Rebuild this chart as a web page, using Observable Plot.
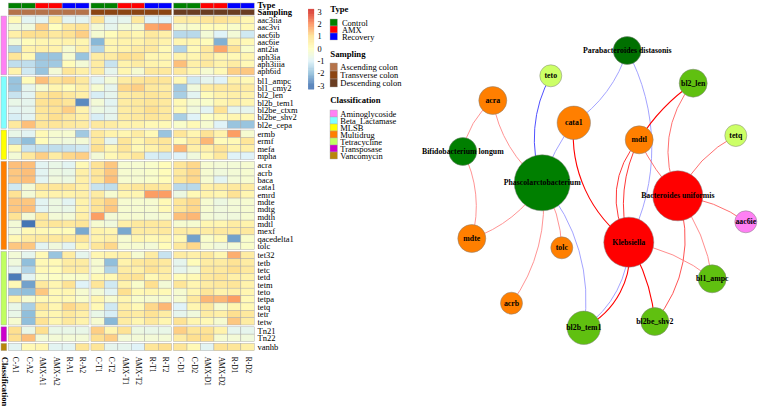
<!DOCTYPE html>
<html><head><meta charset="utf-8">
<script src="https://cdn.jsdelivr.net/npm/d3@7"></script>
<script src="https://cdn.jsdelivr.net/npm/@observablehq/plot@0.6"></script>
<style>
html,body{margin:0;padding:0;background:#fff;width:758px;height:406px;overflow:hidden}
#page{position:relative;width:758px;height:406px}
.ttl{position:absolute;font:bold 8.7px "Liberation Serif",serif;color:#000;line-height:1}
</style></head><body><div id="page"></div>
<script>
const columns=["C-A1","C-A2","AMX-A1","AMX-A2","R-A1","R-A2","C-T1","C-T2","AMX-T1","AMX-T2","R-T1","R-T2","C-D1","C-D2","AMX-D1","AMX-D2","R-D1","R-D2"];
const typeNames=["Control","AMX","Recovery"];
const typeColors=["#008000","#FF0000","#0000FF"];
const samplingNames=["Ascending colon","Transverse colon","Descending colon"];
const samplingColors=["#B5734A","#8B4513","#6A3D22"];
const classNames=["Aminoglycoside","Beta_Lactamase","MLSB","Multidrug","Tetracycline","Transposase","Vancomycin"];
const classColors=["#FF80F4","#80FFFF","#FFFF00","#FF7F00","#C0FF60","#CC00CC","#B8860B"];

const rowsAmino=["aac3iia","aac3vi","aac6ib","aac6ie","ant2ia","aph3ia","aph3iiia","aph6id"];
const heatAmino=[
[0.2,-0.9,-0.9,0.7,-0.9,-0.9,0.9,-0.9,-0.8,0.7,-1,-1,0.6,0.6,0.8,0.9,0.7,0.3],
[-0.5,-0.5,1.2,0,0.7,0.9,-0.4,-0.8,-0.4,-0.3,1.7,1.9,-0.3,-0.2,0.1,0.1,-0.2,0.2],
[0.5,1,1,0.7,0.9,1.2,-0.3,0.1,0.5,0.3,0.7,0.5,-1.5,-1.5,-0.4,-1,-0.4,-1.2],
[-0.4,0.1,0.3,0.3,0.4,0.3,-2.1,0.3,0.4,0.4,0.6,0.4,0.3,0.3,0.1,-2.2,0.4,0.2],
[-1.6,0.4,0.5,0.4,-0.3,0.5,-1.6,0.3,0.4,0.6,0.7,0.2,-1.6,0.2,0.7,1.7,0.9,-0.2],
[0.8,0.2,-1.9,-1.9,-0.3,-1.9,0.6,0.6,1,0.9,0.3,0.3,0.4,0.3,0.6,0.3,0.2,0.3],
[-1.4,-1.4,-1.8,-1.8,0.1,-0.4,0.6,-1.3,0.4,0.6,0.4,0.3,1.4,0.5,0.7,0.4,0.6,0.2],
[0.4,-1.2,-1.9,-0.4,0.8,0.5,0.6,-0.8,0.3,-0.3,0.7,0.7,0.7,0.3,-0.3,0.2,1.2,1.3]];
const rowsBeta=["bl1_ampc","bl1_cmy2","bl2_len","bl2b_tem1","bl2be_ctxm","bl2be_shv2","bl2e_cepa"];
const heatBeta=[
[-1.9,0.1,1.4,0.9,1.1,0.7,-0.9,-0.4,0.6,0.8,0.9,0.8,0.2,-1.2,-0.8,-1,0.4,0.2],
[-1.9,-0.8,-0.3,0.3,0.1,0.5,-0.3,-0.8,1.1,1.2,0.7,0.6,-1.8,-0.5,0.6,0.7,0.7,0.6],
[-1.3,-0.9,0.8,1,0.7,0.5,-1.1,-0.8,0.6,0.7,0.8,0.7,-1.7,-0.9,0.1,0.4,0.5,0.4],
[-0.7,-0.8,0.9,1,0.8,-2.7,-0.4,-0.9,0.6,0.7,0.8,0.7,0.2,-0.3,-0.2,0.3,0.5,0.3],
[-0.9,-0.8,0.8,0.9,1.2,0.4,-0.6,-0.8,0.6,0.7,1,0.7,0.2,-0.5,-0.9,0.9,-0.8,-0.8],
[-1.1,-0.9,0.7,1,0.7,0.5,-1.1,-0.8,0.6,0.7,0.8,0.7,-1.7,-1,-0.1,0.2,0.3,0.2],
[0.7,1.4,0.8,0.8,0.7,0.6,0.7,0.6,0.4,0.4,0.2,0.2,-0.2,0.2,-0.3,-1,-1.9,-1.9]];
const rowsMlsb=["ermb","ermf","mefa","mpha"];
const heatMlsb=[
[-0.7,-0.9,0.2,-0.3,-0.3,-1.8,0.7,0.4,0.3,0.6,0.2,-1.9,0.8,0.3,0.9,0.4,1.8,-0.3],
[-1.6,-2,0.1,-0.4,-0.5,-0.4,0.7,-0.8,0.8,0.3,0.7,0.8,0.1,0.7,1.5,0.1,0.2,0.8],
[0.2,-1.3,-1.4,-1.4,-1.3,-1.2,1,0.3,0.8,0.2,0.4,0.7,1.5,0.5,0.5,0.9,0.4,0.5],
[-0.4,0.7,1.2,0.6,1.1,1.2,-0.4,0.2,0.5,0.8,-1.1,-1.2,-1,-0.5,0.2,0.7,-1,-1]];
const rowsMulti=["acra","acrb","baca","cata1","emrd","mdte","mdtg","mdth","mdtl","mexf","qacedelta1","tolc"];
const heatMulti=[
[1.4,1.4,-0.9,-0.7,-0.9,0.2,0.9,1.3,-0.3,-0.3,-0.2,0.1,0.8,1.1,-0.3,-0.4,-0.4,-0.3],
[1.3,1.4,-0.9,-0.6,-0.7,0.5,0.8,1.3,-0.3,-0.3,-0.2,0.1,0.7,1.1,-0.3,-0.5,-0.4,-0.3],
[1.3,1.4,-0.9,-0.5,-0.6,0.5,0.8,1.4,-0.3,-0.3,-0.2,0.1,0.8,1.1,-0.3,-0.9,-0.4,-0.3],
[-1.2,-0.4,0.8,0.8,0.8,0.5,-1.3,-1.4,0.6,0.8,0.8,0.7,-1.5,-1.5,0.5,0.6,0.7,0.6],
[0.9,-0.4,0.4,0.4,0.4,0.5,0.6,-0.3,0.3,0.3,1.8,1.8,-0.6,0.2,0.4,0.3,0.9,0.3],
[1.3,1.3,-0.9,-0.6,-0.9,0.4,0.9,1.2,-0.3,-0.3,-0.3,0.2,0.8,1.1,-0.3,-0.6,-0.4,-0.3],
[1.3,1.4,-0.9,-0.6,-0.7,0.4,0.9,1.3,-0.3,-0.3,-0.3,0.2,0.8,1.1,-0.3,-0.5,-0.4,-0.3],
[0.9,-0.4,0.7,-0.4,-0.4,0.5,1.8,-0.4,-0.3,-0.3,-0.4,-0.3,1.4,1.5,-0.4,-0.5,-0.5,-0.3],
[-0.4,-3,0.7,0.8,0.7,0.8,-0.3,-0.5,0.5,0.7,0.7,0.7,-0.3,-0.3,0.3,0.3,0.6,0.4],
[-0.4,0.2,0.2,0.1,0.1,-2.3,0.4,0.3,-2.3,0.6,0.6,0.7,0.6,0.6,0.6,0.7,0.7,0.7],
[0.2,0.6,0.7,0.7,0.7,0.8,0.4,0.5,-0.3,0.3,0.2,0.3,0.2,-2.4,-0.2,0.2,-2.4,-0.2],
[1.3,1.3,-0.9,-0.5,-0.9,0.3,0.8,1.1,-0.3,-0.3,-0.4,0.1,0.7,1.1,-0.3,-0.5,-0.4,-0.2]];
const rowsTetra=["tet32","tetb","tetc","tetd","tetm","teto","tetpa","tetq","tetr","tetw"];
const heatTetra=[
[-0.4,-0.8,0.2,-1.9,0.6,-0.8,0.3,0.4,0.5,-0.3,0.6,-1.3,0.6,0.5,0.7,0.3,1.6,0.6],
[-0.5,-2,0.2,0.2,0.6,0.6,-0.3,-2,0.4,0.7,0.8,0.7,-0.8,0.1,0.6,0.6,0.9,0.6],
[-0.8,-1.6,0.2,0.1,0.6,0.6,-0.3,-1.6,0.6,0.5,0.9,0.6,-0.8,-0.5,0.7,0.7,1,0.7],
[-2.9,-0.9,-0.2,-0.1,-0.2,-0.2,0.2,0.2,0.8,0.9,0.2,0.5,0.1,0.2,0.7,0.8,0.5,0.4],
[0.2,-2.4,0.7,0.3,0.9,-1,0.8,-1.2,0.4,-0.2,1,-0.4,0.8,0.3,0.6,0.7,0.8,0.4],
[-1.9,-2,1.3,0.2,0.3,-0.3,-0.4,-0.9,1,0.2,0.3,0.2,-0.3,0.3,0.8,0.4,0.5,0.3],
[0.4,-0.3,0.2,0.2,0.2,-0.2,0.3,-0.3,0.3,-0.2,-0.3,-0.3,-0.3,0.7,1.5,1.5,1.8,0.2],
[-0.7,-1.7,0.8,0.3,1.1,0.8,0.2,-1.2,0.5,0.2,1.1,1.5,-1,0.3,0.7,-0.3,0.3,0.2],
[-0.7,-2,0.4,0.3,0.7,0.5,-0.7,-1.1,0.7,0.6,0.9,0.6,-0.8,-0.5,0.6,0.5,1,0.7],
[-0.3,-2,0.9,0.3,0.7,0.4,-0.3,-2.1,0.6,0.3,0.7,0.3,0.9,0.3,0.2,-0.3,1.3,0.6]];
const rowsTrans=["Tn21","Tn22"];
const heatTrans=[
[1,-0.7,1,-0.7,-0.7,-0.7,1.2,0.3,0.9,-0.6,-0.7,-0.7,1.2,0.8,0.9,0.4,-0.8,-0.8],
[1,1.4,-0.4,-0.4,-0.4,-0.4,1,1.2,-0.4,-0.4,-0.4,-0.4,0.6,1,1,-0.3,-0.4,-0.5]];
const rowsVanco=["vanhb"];
const heatVanco=[[-0.9,0.2,0.3,-0.9,-0.9,0.8,0.8,-0.8,-0.8,-1,0.8,1,0.8,0.2,-0.9,0.9,0.8,0.5]];
const rowGroups=[rowsAmino,rowsBeta,rowsMlsb,rowsMulti,rowsTetra,rowsTrans,rowsVanco];
const heatGroups=[heatAmino,heatBeta,heatMlsb,heatMulti,heatTetra,heatTrans,heatVanco];
const heatTicks=[-3,-2,-1,0,1,2,3];
const heatRamp=["#4575B4","#91BFDB","#E0F3F8","#FFFFBF","#FEE090","#FC8D59","#D73027"];

const nodeNames=["Phascolarctobacterium","Bifidobacterium longum","Parabacteroides distasonis","Bacteroides uniformis","Klebsiella","acra","acrb","cata1","mdte","mdtl","tolc","teto","tetq","bl2_len","bl1_ampc","bl2b_tem1","bl2be_shv2","aac6ie"];
const nodeX=[541.7,462.3,626.7,677.3,628.3,492.3,511,573.3,471.3,638.7,561.3,550.3,735.3,692.7,711.7,583.3,654.3,745.3];
const nodeY=[182.3,151,50,195.3,241.7,100,302.7,122.3,238,139.3,247.3,75.3,135,82.7,278.3,327.3,321,221.3];
const nodeSize=[28,14,14,25,25,14,11,16.7,14,14,11,11,11,14,14,16.7,14,11];
const nodeFill=["#007F00","#007F00","#007000","#FF0000","#FF0000","#FF7F00","#FF7F00","#FF7F00","#FF7F00","#FF7F00","#FF7F00","#CCFF66","#CCFF66","#60C010","#60C010","#60C010","#60C010","#FF80F4"];
const edges=[
["acra","Bifidobacterium longum","#FF8888",-20],
["acra","Phascolarctobacterium","#FF8888",-22],
["Bifidobacterium longum","mdte","#FF8888",22],
["Phascolarctobacterium","mdte","#FF8888",20],
["Phascolarctobacterium","acrb","#FF8888",22],
["Phascolarctobacterium","tolc","#FF8888",15],
["teto","Phascolarctobacterium","#3C3CFF",-25],
["cata1","Phascolarctobacterium","#9999FF",-10],
["Phascolarctobacterium","bl2b_tem1","#9999FF",25],
["Parabacteroides distasonis","cata1","#9999FF",20],
["Parabacteroides distasonis","Klebsiella","#9999FF",28],
["Klebsiella","bl2b_tem1","#9999FF",28],
["cata1","Klebsiella","#FF0000",-30],
["mdtl","bl2_len","#FF0000",12],
["mdtl","Klebsiella","#FF2020",-38],
["mdtl","Klebsiella","#FF2020",-22],
["mdtl","Bacteroides uniformis","#FF6060",-10],
["bl2_len","Bacteroides uniformis","#FF6060",-33],
["tetq","Bacteroides uniformis","#FF6060",-18],
["Bacteroides uniformis","aac6ie","#FF6060",15],
["Bacteroides uniformis","bl1_ampc","#FF8080",15],
["Bacteroides uniformis","bl2be_shv2","#FF4040",30],
["Klebsiella","bl1_ampc","#FF8080",15],
["Klebsiella","bl2be_shv2","#FF0000",13],
["Klebsiella","bl2b_tem1","#FF0000",36]
];

const page=document.getElementById("page");
const SERIF='"Liberation Serif",serif';
const abs=(l,t)=>({position:"absolute",left:l+"px",top:t+"px",background:"transparent",overflow:"visible",maxWidth:"none",fontFamily:SERIF});

/* heatmap */
const colGap=0.14,rowGap=0.25;
const colPos=i=>i+Math.floor(i/6)*colGap;
const rowTable=[];let rowCursor=0;
rowGroups.forEach((names,g)=>{names.forEach((n,r)=>{rowTable.push({name:n,g,r,y:rowCursor,vals:heatGroups[g][r]});rowCursor+=1;});rowCursor+=rowGap;});
const yEnd=rowCursor-rowGap;
const cells=rowTable.flatMap(row=>row.vals.map((v,c)=>({row,c,v,y:row.y})));
const xEnd=colPos(17)+1;
const classBars=rowGroups.map((names,g)=>{const rs=rowTable.filter(r=>r.g===g);return {g,y1:rs[0].y,y2:rs[rs.length-1].y+1};});
const colInfo=columns.map((name,c)=>({name,c,type:Math.floor(c/2)%3,samp:Math.floor(c/6)}));
const grid="#a8a8a8";
const heat=Plot.plot({
  width:300,height:406,margin:0,style:abs(0,0),
  x:{domain:[-0.543,xEnd],range:[1,254.3],axis:null},
  y:{domain:[-1.77,yEnd],range:[3,350.7],axis:null},
  color:{type:"linear",domain:heatTicks,range:heatRamp,interpolate:"rgb",clamp:true},
  marks:[
    Plot.rect(cells,{x1:d=>colPos(d.c),x2:d=>colPos(d.c)+1,y1:"y",y2:d=>d.y+1,fill:"v",stroke:grid,strokeWidth:0.45}),
    Plot.rect(colInfo,{x1:d=>colPos(d.c),x2:d=>colPos(d.c)+1,y1:()=>-1.77,y2:()=>-1.05,fill:{value:d=>typeColors[d.type],scale:null},stroke:grid,strokeWidth:0.45}),
    Plot.rect(colInfo,{x1:d=>colPos(d.c),x2:d=>colPos(d.c)+1,y1:()=>-0.91,y2:()=>-0.14,fill:{value:d=>samplingColors[d.samp],scale:null},stroke:grid,strokeWidth:0.45}),
    Plot.rect(classBars,{x1:()=>-0.543,x2:()=>-0.12,y1:"y1",y2:"y2",fill:{value:d=>classColors[d.g],scale:null},stroke:grid,strokeWidth:0.45}),
    Plot.text(rowTable,{x:()=>xEnd,y:d=>d.y+0.5,text:"name",textAnchor:"start",dx:2.7,fontFamily:SERIF,fontSize:8.5,fill:"#000"}),
    Plot.text(["Type","Sampling"],{x:()=>xEnd,y:(d,i)=>[-1.59,-0.64][i],text:d=>d,textAnchor:"start",dx:2.7,fontFamily:SERIF,fontSize:8.5,fontWeight:"bold",fill:"#000"}),
    Plot.text(colInfo,{x:d=>colPos(d.c)+0.5,y:()=>yEnd,text:"name",rotate:90,textAnchor:"start",dy:5.5,fontFamily:SERIF,fontSize:7.5,fill:"#000"}),
    Plot.text(["Classification"],{x:()=>-0.33,y:()=>yEnd,text:d=>d,rotate:90,textAnchor:"start",dy:5.5,fontFamily:SERIF,fontSize:8.6,fontWeight:"bold",fill:"#000"})
  ]
});
page.appendChild(heat);

/* colour bar */
const levels=d3.range(-3.3,3.2,0.05);
const bar=Plot.plot({
  width:34,height:100,margin:0,style:abs(305,0),
  x:{domain:[0,1],range:[3.3,9],axis:null},
  y:{domain:[-3.3,3.2],range:[89.3,9],axis:null},
  color:{type:"linear",domain:heatTicks,range:heatRamp,interpolate:"rgb",clamp:true},
  marks:[
    Plot.rect(levels,{x1:()=>0,x2:()=>1,y1:d=>d,y2:d=>d+0.05,fill:d=>d,stroke:d=>d,strokeWidth:0.2}),
    Plot.text(heatTicks,{x:()=>1,y:d=>d,text:d=>String(d),textAnchor:"start",dx:3,fontFamily:SERIF,fontSize:8.3,fill:"#000"})
  ]
});
page.appendChild(bar);

/* legends */
function legend(title,names,colors,titleTop,top,itemH,textDx){
  const t=document.createElement("div");t.className="ttl";t.textContent=title;
  t.style.left="330.3px";t.style.top=titleTop+"px";page.appendChild(t);
  page.appendChild(Plot.plot({
    width:110,height:names.length*itemH,margin:0,style:abs(330.3,top),
    x:{domain:[0,1],range:[0,7.4],axis:null},
    y:{type:"band",domain:names,padding:0,axis:null},
    marks:[
      Plot.barX(names,{x1:()=>0,x2:()=>1,y:d=>d,fill:{value:(d,i)=>colors[i],scale:null},stroke:grid,strokeWidth:0.4}),
      Plot.text(names,{x:()=>1,y:d=>d,text:d=>d,textAnchor:"start",dx:textDx,fontFamily:SERIF,fontSize:8.5,fill:"#000"})
    ]
  }));
}
legend("Type",typeNames,typeColors,4.5,18.3,7.8,4);
legend("Sampling",samplingNames,samplingColors,50,62.7,8,2.4);
legend("Classification",classNames,classColors,95.5,107.3,7.78,2.4);

/* network */
const nodes=nodeNames.map((name,i)=>({name,x:nodeX[i],y:nodeY[i],size:nodeSize[i],fill:nodeFill[i]}));
const at=Object.fromEntries(nodes.map(n=>[n.name,n]));
const net=Plot.plot({
  width:358,height:406,margin:0,style:abs(400,0),
  x:{domain:[400,758],range:[0,358],axis:null},
  y:{domain:[0,406],range:[0,406],axis:null},
  r:{type:"identity"},
  marks:[
    ...edges.map(([a,b,c,bend])=>Plot.arrow([[a,b]],{
      x1:d=>at[d[0]].x,y1:d=>at[d[0]].y,x2:d=>at[d[1]].x,y2:d=>at[d[1]].y,
      bend,headLength:0,stroke:c,strokeWidth:c==="#FF0000"?1.1:0.9,fill:"none"})),
    Plot.dot(nodes,{x:"x",y:"y",r:"size",fill:{value:"fill",scale:null},stroke:"#808080",strokeWidth:0.5}),
    Plot.text(nodes,{x:"x",y:"y",text:"name",fontFamily:SERIF,fontSize:7.8,fontWeight:"bold",fill:"#000"})
  ]
});
page.appendChild(net);
</script></body></html>
